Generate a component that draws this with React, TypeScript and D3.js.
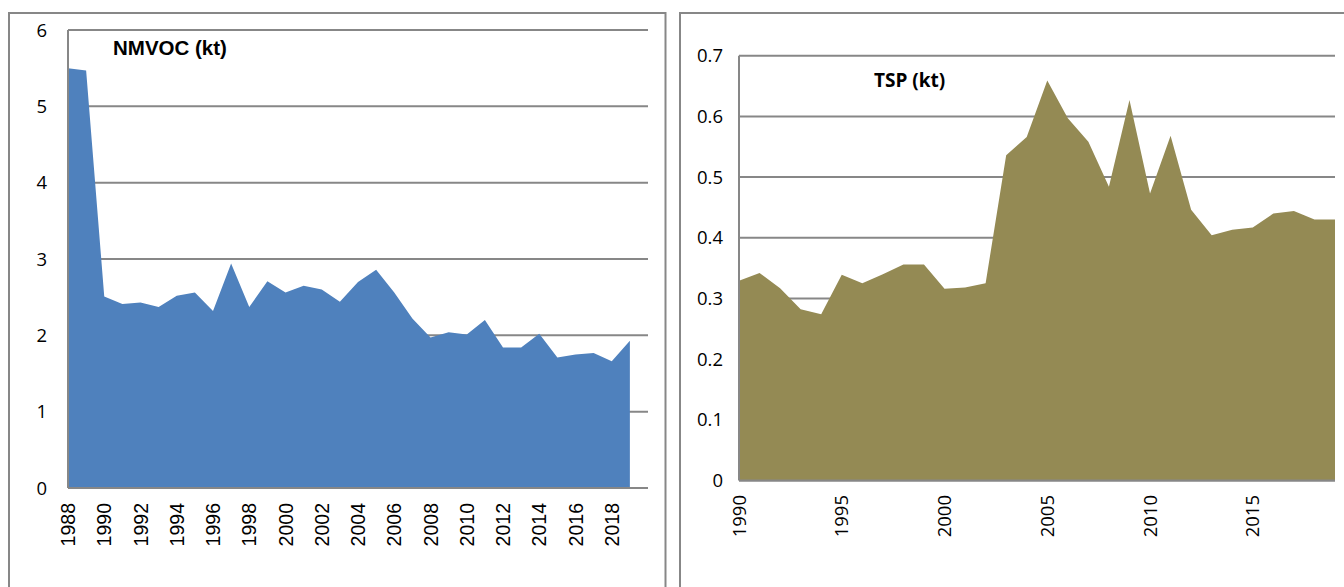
import React from "react";
import * as d3 from "d3";

const nmvocYears = d3.range(1988, 2020);
const nmvocValues = [
  5.5, 5.47, 2.51, 2.41, 2.43, 2.37, 2.52, 2.56, 2.32, 2.94, 2.37, 2.71, 2.56, 2.65, 2.6, 2.44,
  2.7, 2.86, 2.56, 2.22, 1.97, 2.04, 2.01, 2.2, 1.84, 1.84, 2.02, 1.71, 1.75, 1.77, 1.66, 1.93,
];
const nmvocYTicks = [0, 1, 2, 3, 4, 5, 6];
const nmvocXTicks = d3.range(1988, 2019, 2);

const tspYears = d3.range(1990, 2020);
const tspValues = [
  0.329, 0.342, 0.317, 0.282, 0.274, 0.339, 0.325, 0.34, 0.356, 0.356, 0.316, 0.318, 0.325,
  0.536, 0.566, 0.659, 0.597, 0.558, 0.484, 0.627, 0.473, 0.568, 0.446, 0.404, 0.413, 0.417,
  0.44, 0.444, 0.43, 0.43,
];
const tspYTicks = [0, 0.1, 0.2, 0.3, 0.4, 0.5, 0.6, 0.7];
const tspXTicks = [1990, 1995, 2000, 2005, 2010, 2015];

const GRID = "#878787";
const SANS = "'Open Sans', 'Liberation Sans', sans-serif";
const ARIAL = "'Liberation Sans', Arial, sans-serif";

export default function App() {
  // Left chart scales
  const xL = d3.scaleLinear().domain([1988, 2020]).range([68, 648]);
  const yL = d3.scaleLinear().domain([0, 6]).range([488, 30]);
  const areaL = d3
    .area<number>()
    .x((_, i) => xL(nmvocYears[i]))
    .y0(yL(0))
    .y1((d) => yL(d));

  // Right chart scales
  const xR = d3.scaleLinear().domain([1990, 2019]).range([739, 1335]);
  const yR = d3.scaleLinear().domain([0, 0.7]).range([480.5, 55.7]);
  const areaR = d3
    .area<number>()
    .x((_, i) => xR(tspYears[i]))
    .y0(yR(0))
    .y1((d) => yR(d));

  return (
    <svg
      width={1344}
      height={587}
      style={{ position: "absolute", left: 0, top: 0, background: "#fff" }}
    >
      {/* Panel borders */}
      <rect x={9} y={13} width={656.5} height={620} fill="#fff" stroke={GRID} strokeWidth={2} />
      <rect x={680} y={13} width={700} height={620} fill="#fff" stroke={GRID} strokeWidth={2} />

      {/* ---------- Left chart: NMVOC ---------- */}
      {nmvocYTicks.map((t) => (
        <line key={"gl" + t} x1={xL(1988)} x2={xL(2020)} y1={yL(t)} y2={yL(t)} stroke={GRID} strokeWidth={2} />
      ))}
      <path d={areaL(nmvocValues) || ""} fill="#4f81bd" />
      <line x1={xL(1988)} x2={xL(1988)} y1={yL(6)} y2={yL(0)} stroke={GRID} strokeWidth={2} />
      <line x1={xL(1988)} x2={xL(2020)} y1={yL(0)} y2={yL(0)} stroke={GRID} strokeWidth={2} />
      {nmvocYTicks.map((t) => (
        <text key={"yl" + t} x={47} y={yL(t)} dy="0.36em" textAnchor="end" fontFamily={SANS} fontSize={18.5} fill="#000">
          {t}
        </text>
      ))}
      {nmvocXTicks.map((yr) => (
        <text
          key={"xl" + yr}
          transform={`translate(${xL(yr)},503) rotate(-90)`}
          dy="0.36em"
          textAnchor="end"
          fontFamily={ARIAL}
          fontSize={19.5}
          fill="#000"
        >
          {yr}
        </text>
      ))}
      <text x={113} y={55} fontFamily={ARIAL} fontWeight="bold" fontSize={20.5} fill="#000">
        NMVOC (kt)
      </text>

      {/* ---------- Right chart: TSP ---------- */}
      {tspYTicks.map((t) => (
        <line key={"gr" + t} x1={xR(1990)} x2={xR(2019)} y1={yR(t)} y2={yR(t)} stroke={GRID} strokeWidth={2} />
      ))}
      <path d={areaR(tspValues) || ""} fill="#948a54" />
      <line x1={xR(1990)} x2={xR(1990)} y1={yR(0.7)} y2={yR(0)} stroke={GRID} strokeWidth={2} />
      <line x1={xR(1990)} x2={xR(2019)} y1={yR(0)} y2={yR(0)} stroke={GRID} strokeWidth={2} />
      {tspYTicks.map((t) => (
        <text key={"yr" + t} x={723} y={yR(t)} dy="0.36em" textAnchor="end" fontFamily={SANS} fontSize={18.5} fill="#000">
          {t === 0 ? "0" : t.toFixed(1)}
        </text>
      ))}
      {tspXTicks.map((yr) => (
        <text
          key={"xr" + yr}
          transform={`translate(${xR(yr)},495) rotate(-90)`}
          dy="0.36em"
          textAnchor="end"
          fontFamily={SANS}
          fontSize={18.5}
          fill="#000"
        >
          {yr}
        </text>
      ))}
      <text x={874} y={87} fontFamily={SANS} fontWeight="bold" fontSize={19} fill="#000">
        TSP (kt)
      </text>
    </svg>
  );
}
